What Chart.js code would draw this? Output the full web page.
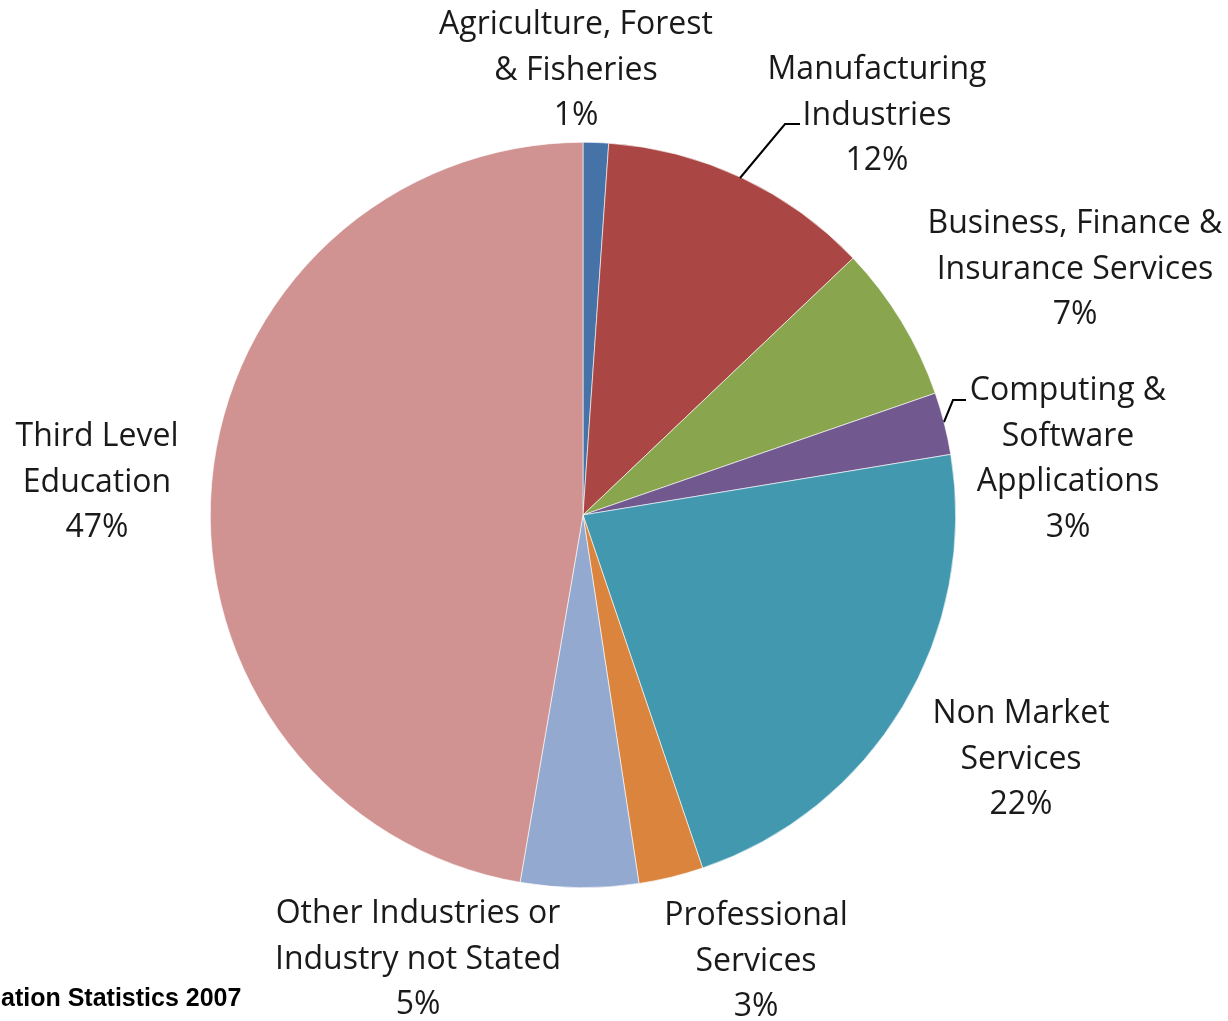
<!DOCTYPE html>
<html>
<head>
<meta charset="utf-8">
<script src="https://cdn.jsdelivr.net/npm/chart.js@4.4.1/dist/chart.umd.min.js"></script>
<style>
  html, body { margin: 0; padding: 0; background: #fff; }
  #wrap { position: relative; width: 1228px; height: 1021px; }
</style>
</head>
<body>
<div id="wrap"><canvas id="pie" width="1228" height="1021"></canvas></div>
<script>
// ── Data ──────────────────────────────────────────────
const CATEGORIES = [
  ['Agriculture, Forest', '& Fisheries'],
  ['Manufacturing', 'Industries'],
  ['Business, Finance &', 'Insurance Services'],
  ['Computing &', 'Software', 'Applications'],
  ['Non Market', 'Services'],
  ['Professional', 'Services'],
  ['Other Industries or', 'Industry not Stated'],
  ['Third Level', 'Education'],
];
const SHARES     = [1.1, 11.8, 6.8, 2.7, 22.4, 2.8, 5.1, 47.3];
const PCT_LABELS = ['1%', '12%', '7%', '3%', '22%', '3%', '5%', '47%'];
const SOURCE_TEXT = 'ation Statistics 2007';

const COLORS = ['#4572A7','#AA4643','#89A54E','#71588F','#4198AF','#DB843D','#93A9CF','#D19392'];

// label block centres (first line) and leader lines, layout only
const LABEL_POS = [
  [576, 25], [877, 70], [1075, 224], [1068, 391],
  [1021, 714], [756, 916], [418, 914], [97, 437]
];
const LEADERS = {
  1: [[740, 178], [785, 124], [800, 124]],
  3: [[944, 422], [953, 400], [966, 400]],
};
const LINE_H = 45.5;
const FONT = '32px "Open Sans", "DejaVu Sans", sans-serif';

const labelPlugin = {
  id: 'outLabels',
  afterDraw(chart) {
    const c = chart.ctx;
    c.save();
    // leader lines
    c.strokeStyle = '#000';
    c.lineWidth = 2;
    Object.values(LEADERS).forEach(pts => {
      c.beginPath();
      pts.forEach((p, k) => k ? c.lineTo(p[0], p[1]) : c.moveTo(p[0], p[1]));
      c.stroke();
    });
    c.fillStyle = '#1a1a1a';
    c.font = FONT;
    c.textAlign = 'center';
    c.textBaseline = 'middle';
    CATEGORIES.forEach((lines, i) => {
      const [x, y] = LABEL_POS[i];
      lines.concat([PCT_LABELS[i]]).forEach((t, k) => c.fillText(t, x, y + k * LINE_H));
    });
    // source note (cut at left edge)
    c.fillStyle = '#000';
    c.font = 'bold 25px "Liberation Sans", Arial, sans-serif';
    c.textAlign = 'left';
    c.textBaseline = 'alphabetic';
    c.fillText(SOURCE_TEXT, 1, 1006);
    c.restore();
  }
};

new Chart(document.getElementById('pie'), {
  type: 'pie',
  data: {
    labels: CATEGORIES.map(l => l.join(' ')),
    datasets: [{
      data: SHARES,
      backgroundColor: COLORS,
      borderColor: '#ffffff',
      borderWidth: 0.6,
    }]
  },
  options: {
    responsive: false,
    animation: false,
    layout: { padding: { left: 210, right: 272, top: 142, bottom: 133 } },
    plugins: {
      legend: { display: false },
      tooltip: { enabled: false },
    }
  },
  plugins: [labelPlugin]
});
</script>
</body>
</html>
